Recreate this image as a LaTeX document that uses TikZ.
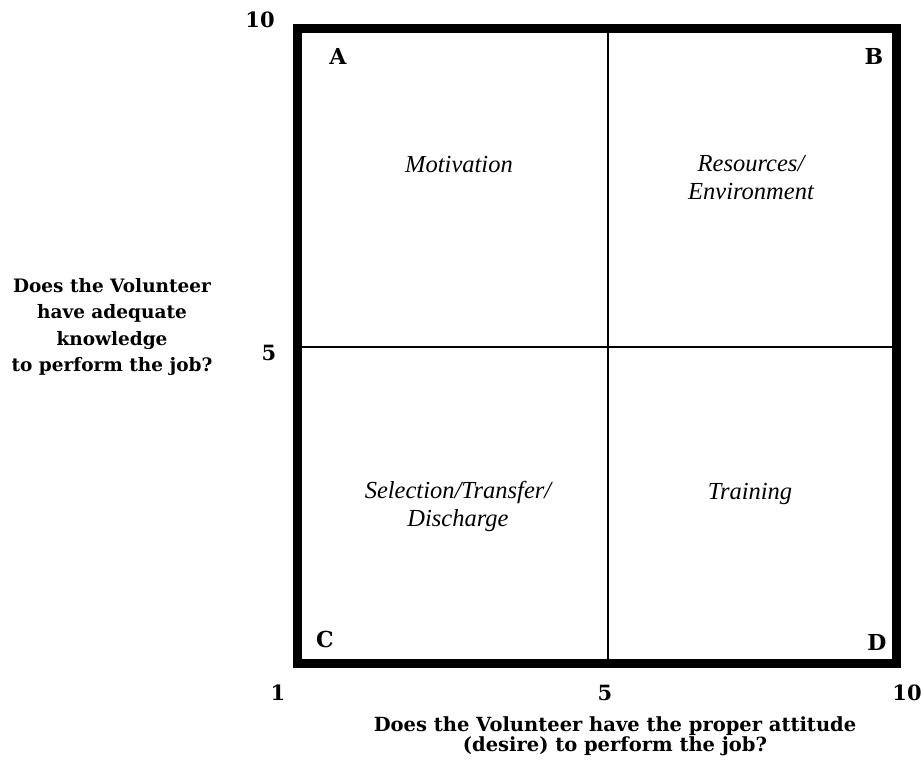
\documentclass[tikz,border=0pt]{standalone}
\usepackage{fontspec}
\newfontfamily\heavyfont{DejaVu Serif}
\newfontfamily\quadfont{Liberation Serif}
\begin{document}
\begin{tikzpicture}[x=1pt,y=-1pt,
  heavy/.style={font=\heavyfont\bfseries\fontsize{#1}{#1}\selectfont, inner sep=0pt, anchor=center},
  heavy/.default=20,
  axislabel/.style={font=\heavyfont\bfseries\fontsize{19.5}{20.5}\selectfont, inner sep=0pt, align=center, anchor=center},
  quadlabel/.style={font=\quadfont\itshape\fontsize{24.5}{28}\selectfont, inner sep=0pt, align=center, anchor=center},
  frame/.style={line width=9pt, draw=black},
  divider/.style={line width=2pt, draw=black}]
\useasboundingbox (0,0) rectangle (924,764);
% frame
\coordinate (tl) at (297.5,28.5);
\coordinate (br) at (896.5,663);
\draw[frame] (tl) rectangle (br);
\coordinate (vt) at (608,33);
\coordinate (vb) at (608,658.5);
\coordinate (hl) at (302,347);
\coordinate (hr) at (892,347);
\draw[divider] (vt) -- (vb);
\draw[divider] (hl) -- (hr);
% corner letters
\node[heavy=22] (A) at (338,56) {A};
\node[heavy=22] (B) at (874,56) {B};
\node[heavy=22] (C) at (325,639) {C};
\node[heavy=22] (D) at (877,642) {D};
% axis numbers
\node[heavy=21] (y10) at (260,20) {10};
\node[heavy=21] (y5) at (269,353) {5};
\node[heavy=21] (x1) at (278,693) {1};
\node[heavy=21] (x5) at (605,693) {5};
\node[heavy=21] (x10) at (907,693) {10};
% axis titles
\node[axislabel, font=\heavyfont\bfseries\fontsize{18.5}{26.5}\selectfont] (ylab) at (112,327) {Does the Volunteer\\have adequate\\knowledge\\to perform the job?};
\node[axislabel] (xlab) at (615,736) {Does the Volunteer have the proper attitude\\(desire) to perform the job?};
% quadrant labels
\node[quadlabel] (qa) at (459,165) {Motivation};
\node[quadlabel] (qb) at (751,178) {Resources/\\Environment};
\node[quadlabel] (qc) at (458,506) {Selection/Transfer/\\Discharge};
\node[quadlabel] (qd) at (750,494) {Training};
\end{tikzpicture}
\end{document}
